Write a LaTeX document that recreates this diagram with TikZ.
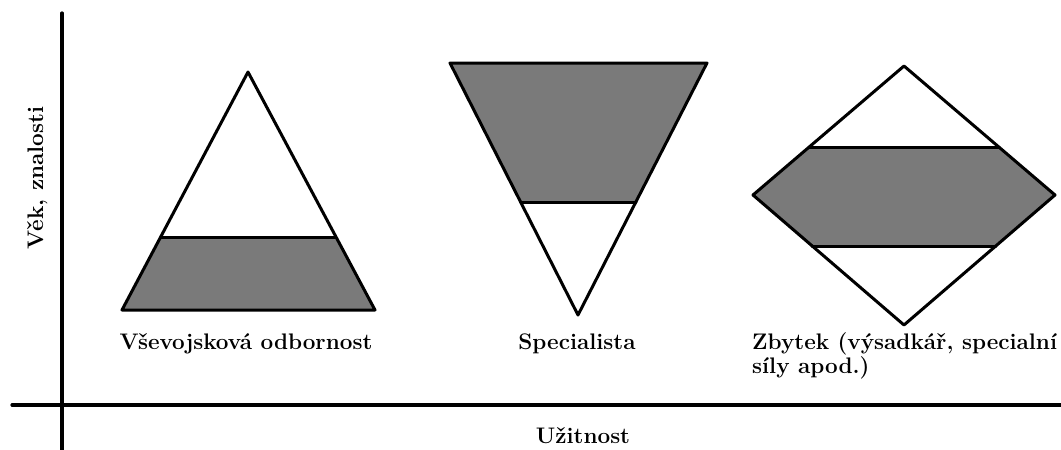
\documentclass[tikz,border=0pt]{standalone}
\begin{document}
\begin{tikzpicture}[x=1pt,y=-1pt,line join=round,line cap=round,
  font=\bfseries\fontsize{22.5}{24}\selectfont,
  shp/.style={line width=3pt},
  band/.style={fill=black!52}]
\useasboundingbox (0,0) rectangle (1061,450);
% axes
\draw[line width=3.2pt] (62,13) -- (62,450);
\draw[line width=3.2pt] (12,405) -- (1061,405);
\node[rotate=90,anchor=base] (vek) at (43,178) {Věk, znalosti};
\node[anchor=base] (uzit) at (583,443) {Užitnost};
% vsevojskova odbornost
\fill[band] (122,310) -- (160.7,237) -- (336,237) -- (375,310) -- cycle;
\draw[shp] (248,72) -- (375,310) -- (122,310) -- cycle;
\draw[shp] (160.7,237) -- (336,237);
\node[anchor=base] (vse) at (246,349) {Vševojsková odbornost};
% specialista
\fill[band] (450,63) -- (707,63) -- (635.8,202) -- (520.6,202) -- cycle;
\draw[shp] (450,63) -- (707,63) -- (578,315) -- cycle;
\draw[shp] (520.6,202) -- (635.8,202);
\node[anchor=base] (spec) at (577,349) {Specialista};
% zbytek
\fill[band] (809.2,147) -- (998.8,147) -- (1055,195) -- (995.8,246) -- (812.2,246) -- (753,195) -- cycle;
\draw[shp] (904,66) -- (1055,195) -- (904,325) -- (753,195) -- cycle;
\draw[shp] (809.2,147) -- (998.8,147);
\draw[shp] (812.2,246) -- (995.8,246);
\node[anchor=north west,align=left,inner sep=0pt] (zbyt) at (752,332) {Zbytek (výsadkář, specialní\\síly apod.)};
\end{tikzpicture}
\end{document}
